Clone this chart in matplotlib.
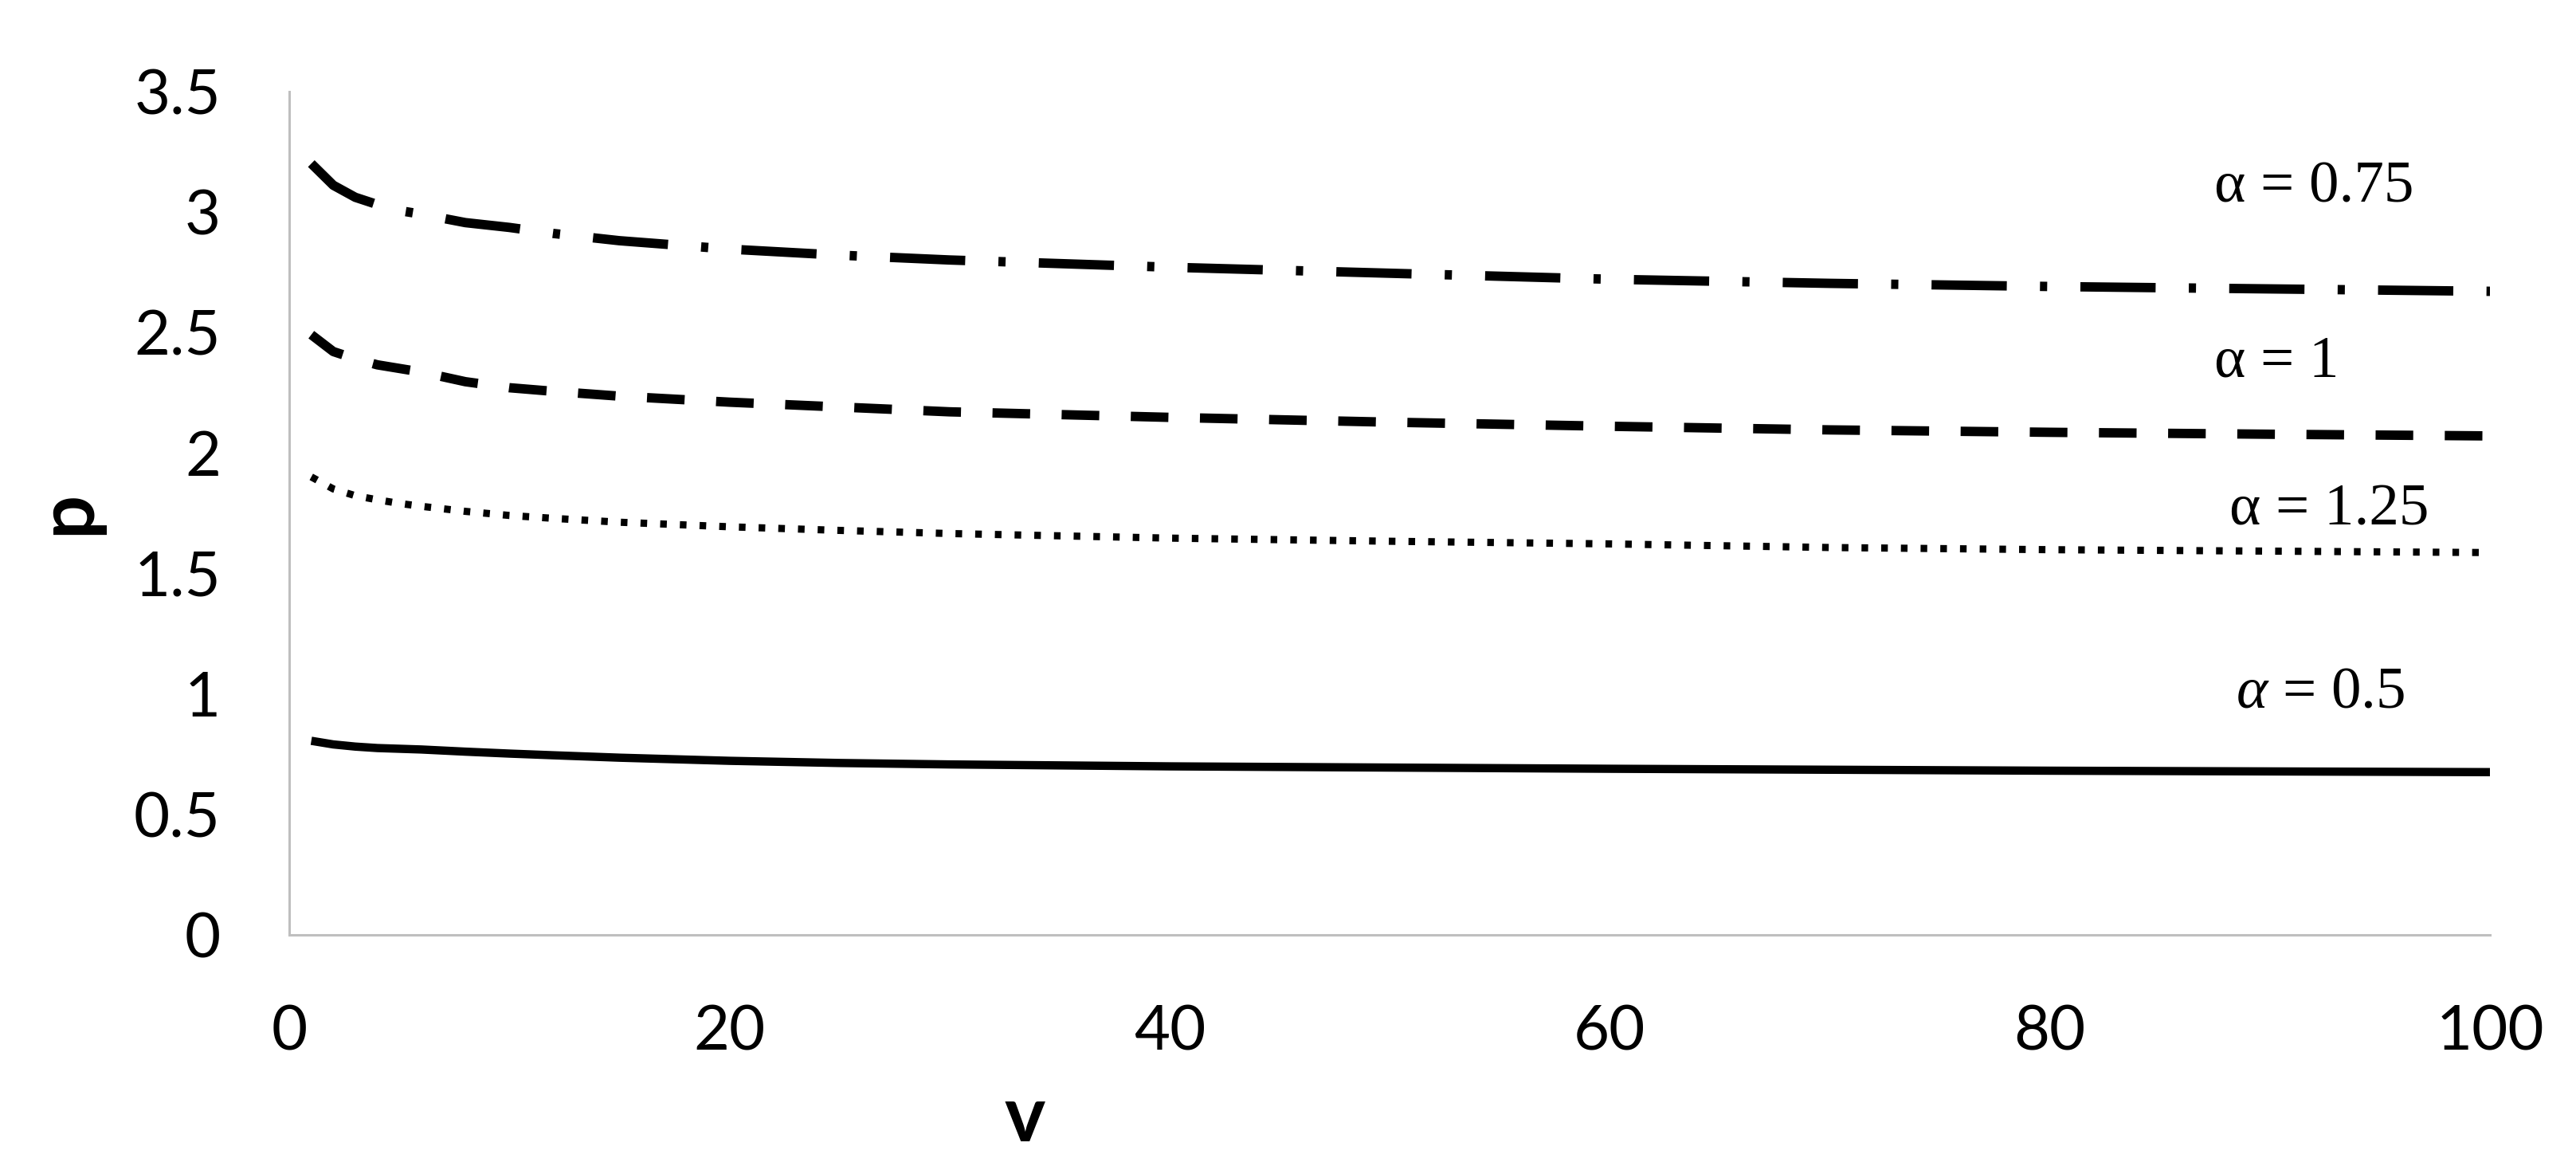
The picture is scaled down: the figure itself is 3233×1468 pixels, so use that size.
import matplotlib
matplotlib.use("Agg")
import matplotlib.pyplot as plt

plt.rcParams['lines.scale_dashes'] = False
plt.rcParams['mathtext.fontset'] = 'custom'
plt.rcParams['mathtext.rm'] = 'Liberation Serif'
plt.rcParams['mathtext.it'] = 'Liberation Serif:italic'

# ---- data ----
v = [1, 2, 3, 4, 5, 6, 8, 10, 12, 15, 20, 25, 30, 40, 50, 60, 70, 80, 90, 100]
p_075 = [3.20, 3.11, 3.06, 3.03, 3.005, 2.99, 2.955, 2.935, 2.91, 2.88, 2.845, 2.82,
         2.80, 2.77, 2.745, 2.72, 2.703, 2.69, 2.68, 2.67]
p_100 = [2.49, 2.42, 2.39, 2.365, 2.35, 2.335, 2.295, 2.27, 2.255, 2.235, 2.21, 2.19,
         2.17, 2.147, 2.127, 2.11, 2.095, 2.085, 2.077, 2.07]
p_125 = [1.90, 1.85, 1.822, 1.805, 1.79, 1.778, 1.757, 1.74, 1.728, 1.712, 1.693, 1.678,
         1.665, 1.646, 1.633, 1.622, 1.607, 1.598, 1.592, 1.586]
p_050 = [0.805, 0.79, 0.781, 0.775, 0.772, 0.769, 0.76, 0.752, 0.745, 0.735, 0.722, 0.713,
         0.707, 0.699, 0.694, 0.689, 0.685, 0.681, 0.678, 0.675]

labels = ["α = 0.75", "α = 1", "α = 1.25", r"$\alpha$ = 0.5"]
label_x = [92.0, 90.3, 92.7, 92.3]
label_y = [3.10, 2.375, 1.76, 1.002]

xticks = [0, 20, 40, 60, 80, 100]
yticks = [0, 0.5, 1, 1.5, 2, 2.5, 3, 3.5]
ytick_labels = ["0", "0.5", "1", "1.5", "2", "2.5", "3", "3.5"]

# ---- figure ----
fig = plt.figure(figsize=(32.33, 14.68), dpi=100)
ax = fig.add_axes([0.1123, 0.2010, 0.9666 - 0.1123, 0.922 - 0.2010])

ax.plot(v, p_075, color='black', lw=8.5, linestyle=(0, (68, 30, 6.5, 30)),
        dash_capstyle='butt', solid_capstyle='butt')
ax.plot(v, p_100, color='black', lw=8.5, linestyle=(0, (34, 28.5)),
        dash_capstyle='butt')
ax.plot(v, p_125, color='black', lw=6.5, linestyle=(0, (6, 11.8)),
        dash_capstyle='butt')
ax.plot(v, p_050, color='black', lw=7.5, linestyle='-', solid_capstyle='butt')

for t, x, y in zip(labels, label_x, label_y):
    ax.text(x, y, t, ha='center', va='center', fontsize=54,
            family='Liberation Serif', color='black')

ax.set_xlim(0, 100)
ax.set_ylim(0, 3.5)
ax.set_xticks(xticks)
ax.set_xticklabels([str(t) for t in xticks])
ax.set_yticks(yticks)
ax.set_yticklabels(ytick_labels)

for s in ['top', 'right']:
    ax.spines[s].set_visible(False)
for s in ['left', 'bottom']:
    ax.spines[s].set_color('#BFBFBF')
    ax.spines[s].set_linewidth(2.2)

ax.tick_params(axis='both', length=0, labelsize=56, colors='black')
ax.tick_params(axis='y', pad=62)
ax.tick_params(axis='x', pad=63)
for lab in ax.get_xticklabels() + ax.get_yticklabels():
    lab.set_family('Lato')

fig.text(0.0263, 0.562, 'p', rotation=90, ha='center', va='center',
         fontsize=70, fontweight='bold', family='Lato')
fig.text(0.398, 0.044, 'v', ha='center', va='center',
         fontsize=70, fontweight='bold', family='Lato')

fig.savefig('out.png', dpi=100, facecolor='white')
